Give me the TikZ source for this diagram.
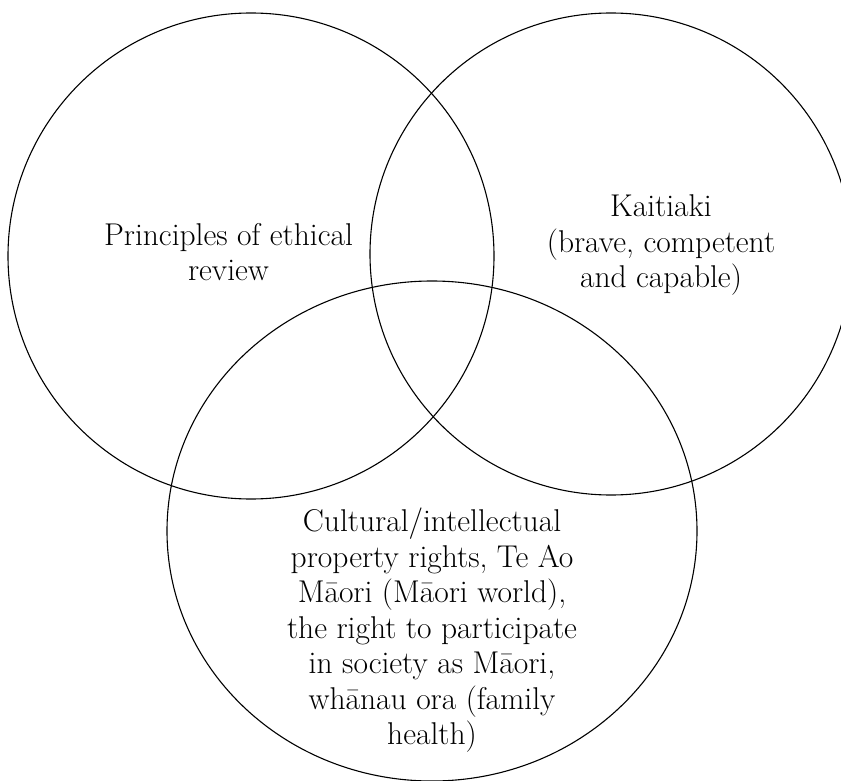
\documentclass[tikz,border=0pt]{standalone}
\usepackage{tikz}
\usetikzlibrary{positioning}
\tikzstyle{set} = [draw,line width=1.1pt]
\tikzstyle{setlabel} = [align=center,inner sep=0pt,font=\fontsize{31.5}{35.5}\selectfont]

\begin{document}
\begin{tikzpicture}[x=1pt,y=-1pt]
          \useasboundingbox (0,0) rectangle (841,781);
          % the three sets
          \path [set] (251,256) circle [radius=243pt];
          \path [set] (611,254) circle [radius=241pt];
          \path [set] (432,531) ellipse [x radius=265pt, y radius=250pt];
          % their labels
          \node[setlabel] (ethics) at (228.5,252) {Principles of ethical\\review};
          \node[setlabel] (kaitiaki) at (661,245.5) {Kaitiaki\\(brave, competent\\and capable)};
          \node[setlabel] (rights) at (432,630.5) {Cultural/intellectual\\property rights, Te Ao\\Māori (Māori world),\\the right to participate\\in society as Māori,\\whānau ora (family\\health)};
        \end{tikzpicture}
\end{document}
